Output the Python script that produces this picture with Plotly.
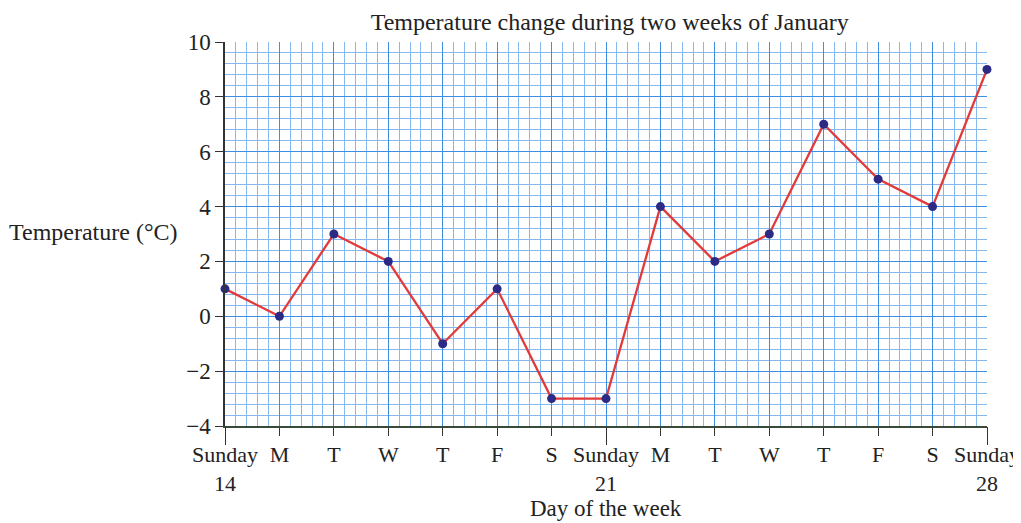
import plotly.graph_objects as go

days = ["Sunday<br>14", "M", "T", "W", "T", "F", "S", "Sunday<br>21",
        "M", "T", "W", "T", "F", "S", "Sunday<br>28"]
temps = [1, 0, 3, 2, -1, 1, -3, -3, 4, 2, 3, 7, 5, 4, 9]
y_ticks = [-4, -2, 0, 2, 4, 6, 8, 10]

x_idx = list(range(len(days)))
sundays = [i for i, d in enumerate(days) if d.startswith("Sunday")]
serif = "Liberation Serif, Times New Roman, serif"
txt = "#222222"
FS = 22

fig = go.Figure()
fig.add_trace(go.Scatter(
    x=x_idx, y=temps, mode="lines+markers",
    line=dict(color="#e23a3a", width=2.3),
    marker=dict(color="#2b2b86", size=9),
    cliponaxis=False, showlegend=False, hoverinfo="x+y",
))
# invisible helper trace so the long Sunday ticks axis is drawn
fig.add_trace(go.Scatter(
    x=sundays, y=[temps[i] for i in sundays], xaxis="x2", mode="markers",
    marker=dict(opacity=0), showlegend=False, hoverinfo="skip",
))

fig.update_layout(
    width=1013, height=515,
    margin=dict(l=217, r=34, t=34, b=97, autoexpand=False),
    paper_bgcolor="white", plot_bgcolor="white",
    font=dict(family=serif, size=FS, color=txt),
    title=dict(text="Temperature change during two weeks of January",
               x=0.594, xanchor="center", y=0.973, yanchor="middle",
               font=dict(family=serif, size=24, color=txt)),
    xaxis2=dict(overlaying="x", anchor="y", side="bottom",
                range=[0, len(days) - 1], tickmode="array", tickvals=sundays,
                showticklabels=False, ticks="outside", ticklen=18,
                tickcolor="#333333", tickwidth=1, showgrid=False,
                gridcolor="rgba(0,0,0,0)", showspikes=False,
                showline=False, zeroline=False, automargin=False),
)

fig.layout.xaxis.update(
    range=[0, len(days) - 1], automargin=False, ticklabeloverflow="allow",
    tickmode="array", tickvals=x_idx, ticktext=days,
    ticks="outside", ticklen=8, tickcolor="#333333", tickwidth=1,
    showline=True, linecolor="#3a4a3a", linewidth=1.5,
    showgrid=True, gridcolor="#3e8fe2", gridwidth=1.2,
    minor=dict(dtick=0.2, showgrid=True, gridcolor="#86b8ee", gridwidth=1),
    zeroline=False,
    tickfont=dict(family=serif, size=FS, color=txt),
)
fig.layout.yaxis.update(
    range=[-4, 10], automargin=False,
    tickmode="array", tickvals=y_ticks,
    ticks="outside", ticklen=8, tickcolor="#333333", tickwidth=1,
    showline=True, linecolor="#333333", linewidth=1.5,
    showgrid=True, gridcolor="#3e8fe2", gridwidth=1.2,
    minor=dict(dtick=0.4, showgrid=True, gridcolor="#86b8ee", gridwidth=1),
    zeroline=False,
    tickfont=dict(family=serif, size=23, color=txt),
)

fig.add_annotation(text="Temperature (°C)", xref="paper", yref="paper",
                   x=-0.059, y=0.505, xanchor="right", yanchor="middle",
                   showarrow=False, font=dict(family=serif, size=24, color=txt))
fig.add_annotation(text="Day of the week", xref="paper", yref="paper",
                   x=0.5, y=-0.215, xanchor="center", yanchor="middle",
                   showarrow=False, font=dict(family=serif, size=23, color=txt))

fig.write_html("out.html")
